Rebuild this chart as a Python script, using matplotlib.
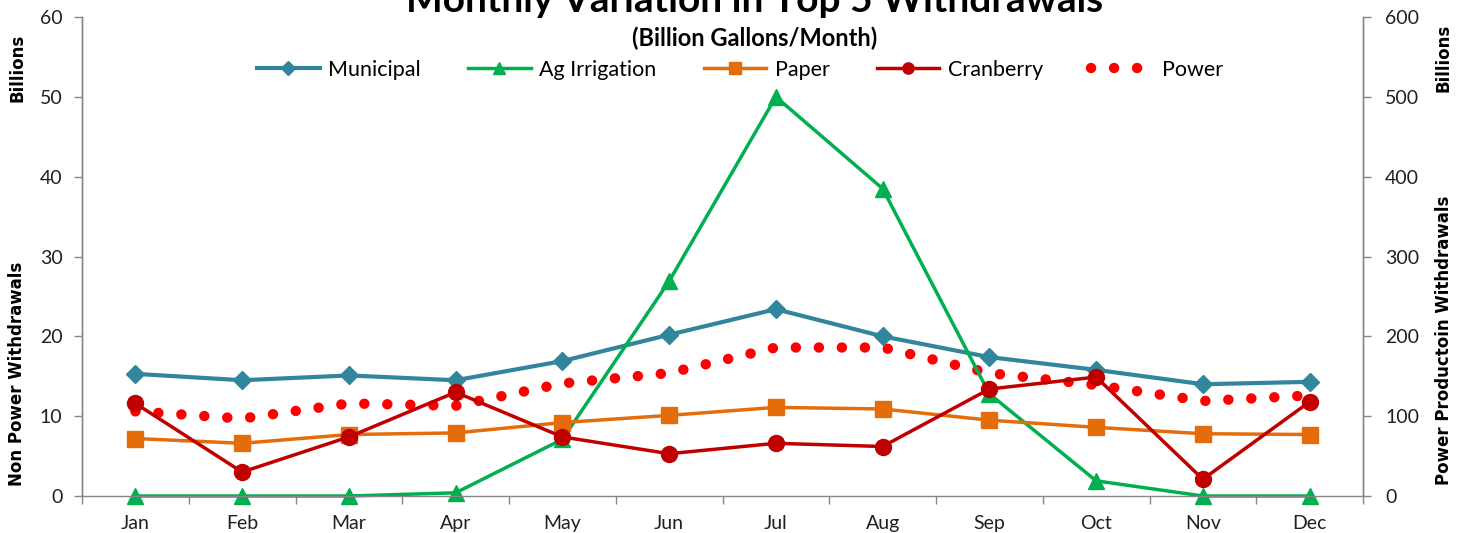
import matplotlib
matplotlib.use("Agg")
import matplotlib.pyplot as plt
from matplotlib.ticker import FixedLocator, MultipleLocator

months = ["Jan", "Feb", "Mar", "Apr", "May", "Jun",
          "Jul", "Aug", "Sep", "Oct", "Nov", "Dec"]

# billions of gallons per month (left axis)
municipal = [15.3, 14.5, 15.1, 14.5, 16.9, 20.2, 23.4, 20.0, 17.4, 15.8, 14.0, 14.3]
ag_irrigation = [0.0, 0.0, 0.0, 0.4, 7.1, 26.9, 50.0, 38.5, 12.8, 1.9, 0.0, 0.0]
paper = [7.2, 6.6, 7.7, 7.9, 9.2, 10.1, 11.1, 10.9, 9.5, 8.6, 7.8, 7.7]
cranberry = [11.6, 3.0, 7.4, 13.0, 7.4, 5.3, 6.6, 6.2, 13.4, 14.9, 2.1, 11.8]

# power production (right axis)
power = [106, 97, 116, 113, 141, 154, 186, 186, 154, 139, 119, 126]

GRAY = "#868686"

fig = plt.figure(figsize=(14.64, 5.33), dpi=100)
ax = fig.add_axes([82 / 1464, 37 / 533, 1281 / 1464, 479 / 533])
ax2 = ax.twinx()
ax.set_zorder(ax2.get_zorder() + 1)
ax.patch.set_visible(False)

x = list(range(len(months)))

p_line, = ax2.plot(x, power, color="#FF0000", linewidth=7.5,
                   linestyle=(0, (0.01, 2.2)), dash_capstyle="round",
                   label="Power")

m_line, = ax.plot(x, municipal, color="#31859C", linewidth=3, marker="D",
                  markersize=9.5, label="Municipal")
a_line, = ax.plot(x, ag_irrigation, color="#00B050", linewidth=2.5, marker="^",
                  markersize=12, label="Ag Irrigation", clip_on=False)
pa_line, = ax.plot(x, paper, color="#E46C0A", linewidth=2.5, marker="s",
                   markersize=11.5, label="Paper")
c_line, = ax.plot(x, cranberry, color="#C00000", linewidth=2.5, marker="o",
                  markersize=11.5, label="Cranberry", clip_on=False)

ax.set_xlim(-0.5, len(months) - 0.5)
ax.set_ylim(0, 60)
ax2.set_ylim(0, 600)
ax.yaxis.set_major_locator(MultipleLocator(10))
ax2.yaxis.set_major_locator(MultipleLocator(100))

ax.set_xticks(x)
ax.set_xticklabels(months, fontsize=14, family="Lato", color="#202020")
ax.xaxis.set_minor_locator(FixedLocator([i - 0.5 for i in range(len(months) + 1)]))
ax.tick_params(axis="x", which="major", length=0, pad=14)
ax.tick_params(axis="x", which="minor", length=6, color=GRAY, width=1)

ax.tick_params(axis="y", length=6, color=GRAY, width=1, pad=8, labelsize=14)
ax2.tick_params(axis="y", length=6, color=GRAY, width=1, pad=10, labelsize=14)
for lbl in ax.get_yticklabels() + ax2.get_yticklabels():
    lbl.set_family("Lato")
    lbl.set_color("#202020")

for a in (ax, ax2):
    a.spines["top"].set_visible(False)
    for s in ("left", "right", "bottom"):
        a.spines[s].set_color(GRAY)
        a.spines[s].set_linewidth(1)
ax2.spines["bottom"].set_visible(False)

# axis titles
fig.text(17 / 1464, 1 - 374 / 533, "Non Power Withdrawals", rotation=90,
         ha="center", va="center", fontsize=12, fontweight="bold")
fig.text(17 / 1464, 1 - 68 / 533, "Billions", rotation=90,
         ha="center", va="center", fontsize=12, fontweight="bold")
fig.text(1444 / 1464, 1 - 340 / 533, "Power Productoin Withdrawals", rotation=90,
         ha="center", va="center", fontsize=12, fontweight="bold")
fig.text(1444 / 1464, 1 - 58 / 533, "Billions", rotation=90,
         ha="center", va="center", fontsize=12, fontweight="bold")

fig.text(755 / 1464, 1 - 12 / 533, "Monthly Variation in Top 5 Withdrawals",
         ha="center", va="baseline", fontsize=28, fontweight="bold", family="Lato")
fig.text(755 / 1464, 1 - 38 / 533, "(Billion Gallons/Month)",
         ha="center", va="center", fontsize=17, fontweight="bold", family="Lato")

fig.legend(handles=[m_line, a_line, pa_line, c_line, p_line],
           loc="center", bbox_to_anchor=(740 / 1464, 1 - 70 / 533), ncol=5,
           frameon=False, prop={"family": "Lato", "size": 15.5},
           handlelength=2.9, columnspacing=2.2, handletextpad=0.4,
           markerscale=0.7)

fig.savefig("out.png", dpi=100)
